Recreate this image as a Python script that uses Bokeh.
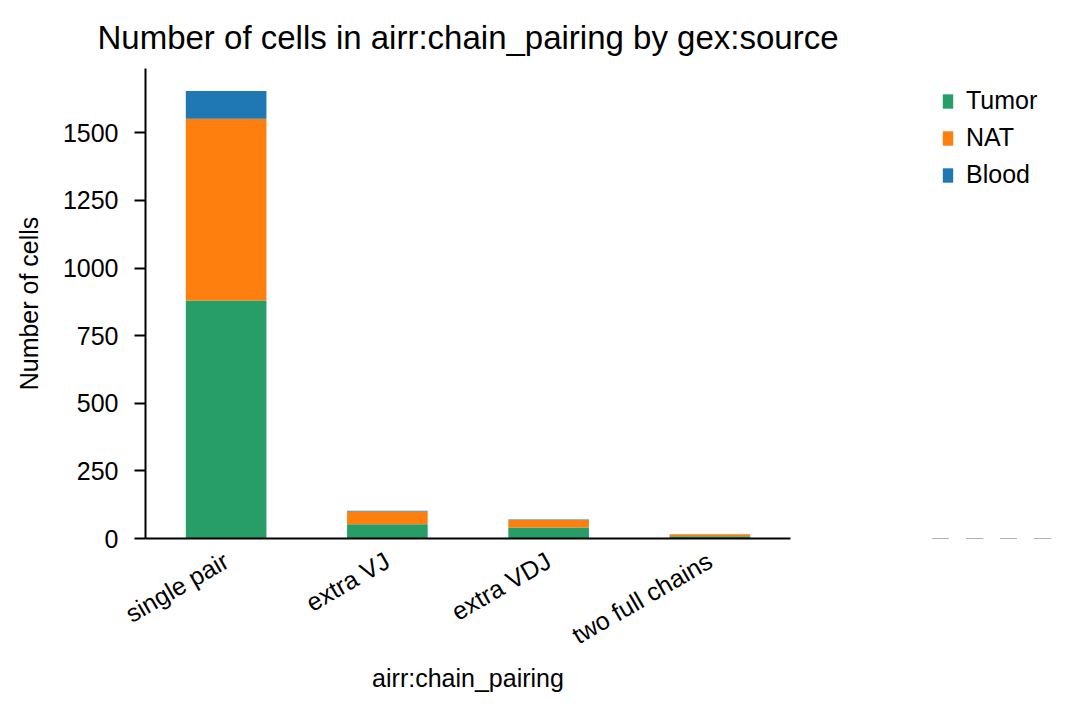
import math
from bokeh.plotting import figure
from bokeh.layouts import row
from bokeh.models import Legend, LegendItem, FactorRange, Range1d, ColumnDataSource
from bokeh.embed import file_html
from bokeh.resources import INLINE

categories = ["single pair", "extra VJ", "extra VDJ", "two full chains"]
tumor = [880, 53, 41, 8]
nat = [672, 47, 27, 8]
blood = [103, 3, 2, 0]
series = ["Tumor", "NAT", "Blood"]
colors = ["#279e68", "#ff7f0e", "#1f77b4"]
y_ticks = [0, 250, 500, 750, 1000, 1250, 1500]

FONT = "Liberation Sans"
FS = "25px"

source = ColumnDataSource(data=dict(cat=categories, Tumor=tumor, NAT=nat, Blood=blood))

p = figure(width=850, height=700, x_range=FactorRange(*categories),
           y_range=Range1d(0, 1738), output_backend="svg", toolbar_location=None,
           title="Number of cells in airr:chain_pairing by gex:source",
           min_border_left=145, min_border_right=60, min_border_top=68, min_border_bottom=162)

renderers = p.vbar_stack(series, x="cat", width=0.5, color=colors, source=source,
                         line_color=None)

p.title.text_font = FONT
p.title.text_font_size = "33px"
p.title.text_font_style = "normal"
p.title.align = "center"
p.title.text_color = "black"
p.title.standoff = 26

p.grid.visible = False
p.outline_line_color = None

for ax in (p.xaxis, p.yaxis):
    ax.axis_line_color = "black"
    ax.axis_line_width = 2
    ax.major_label_text_font = FONT
    ax.major_label_text_font_size = FS
    ax.major_label_text_color = "black"
    ax.axis_label_text_font = FONT
    ax.axis_label_text_font_size = FS
    ax.axis_label_text_font_style = "normal"
    ax.axis_label_text_color = "black"
    ax.minor_tick_line_color = None

p.xaxis.axis_label = "airr:chain_pairing"
p.xaxis.major_tick_line_color = None
p.xaxis.major_label_orientation = math.pi / 6
p.xaxis.major_label_standoff = 14
p.xaxis.axis_label_standoff = 0

p.yaxis.axis_label = "Number of cells"
p.yaxis.ticker = y_ticks
p.yaxis.major_tick_line_color = "black"
p.yaxis.major_tick_line_width = 2
p.yaxis.major_tick_out = 11
p.yaxis.major_tick_in = 0
p.yaxis.major_label_standoff = 16
p.yaxis.axis_label_standoff = 17

# legend panel (same stacked bars, scrolled far out of view, only their legend shows)
lg = figure(width=209, height=700, x_range=FactorRange(*categories), y_range=Range1d(5000, 10000),
            output_backend="svg", toolbar_location=None,
            min_border_left=73, min_border_right=0, min_border_top=0, min_border_bottom=0)
lg.axis.visible = False
lg.grid.visible = False
lg.outline_line_color = None
lg_renderers = lg.vbar_stack(series, x="cat", width=0.5, color=colors, source=source,
                             line_color=None)
items = [LegendItem(label=s, renderers=[r]) for s, r in zip(series, lg_renderers)]
legend = Legend(items=items, location="top_left", orientation="vertical",
                border_line_color=None, background_fill_alpha=0,
                padding=0, margin=18, glyph_width=13, glyph_height=18,
                label_height=29, spacing=8, label_standoff=12,
                label_text_font=FONT, label_text_font_size=FS, label_text_color="black")
lg.add_layout(legend, "center")

layout = row(p, lg)
open("out.html", "w").write(file_html(layout, INLINE))
